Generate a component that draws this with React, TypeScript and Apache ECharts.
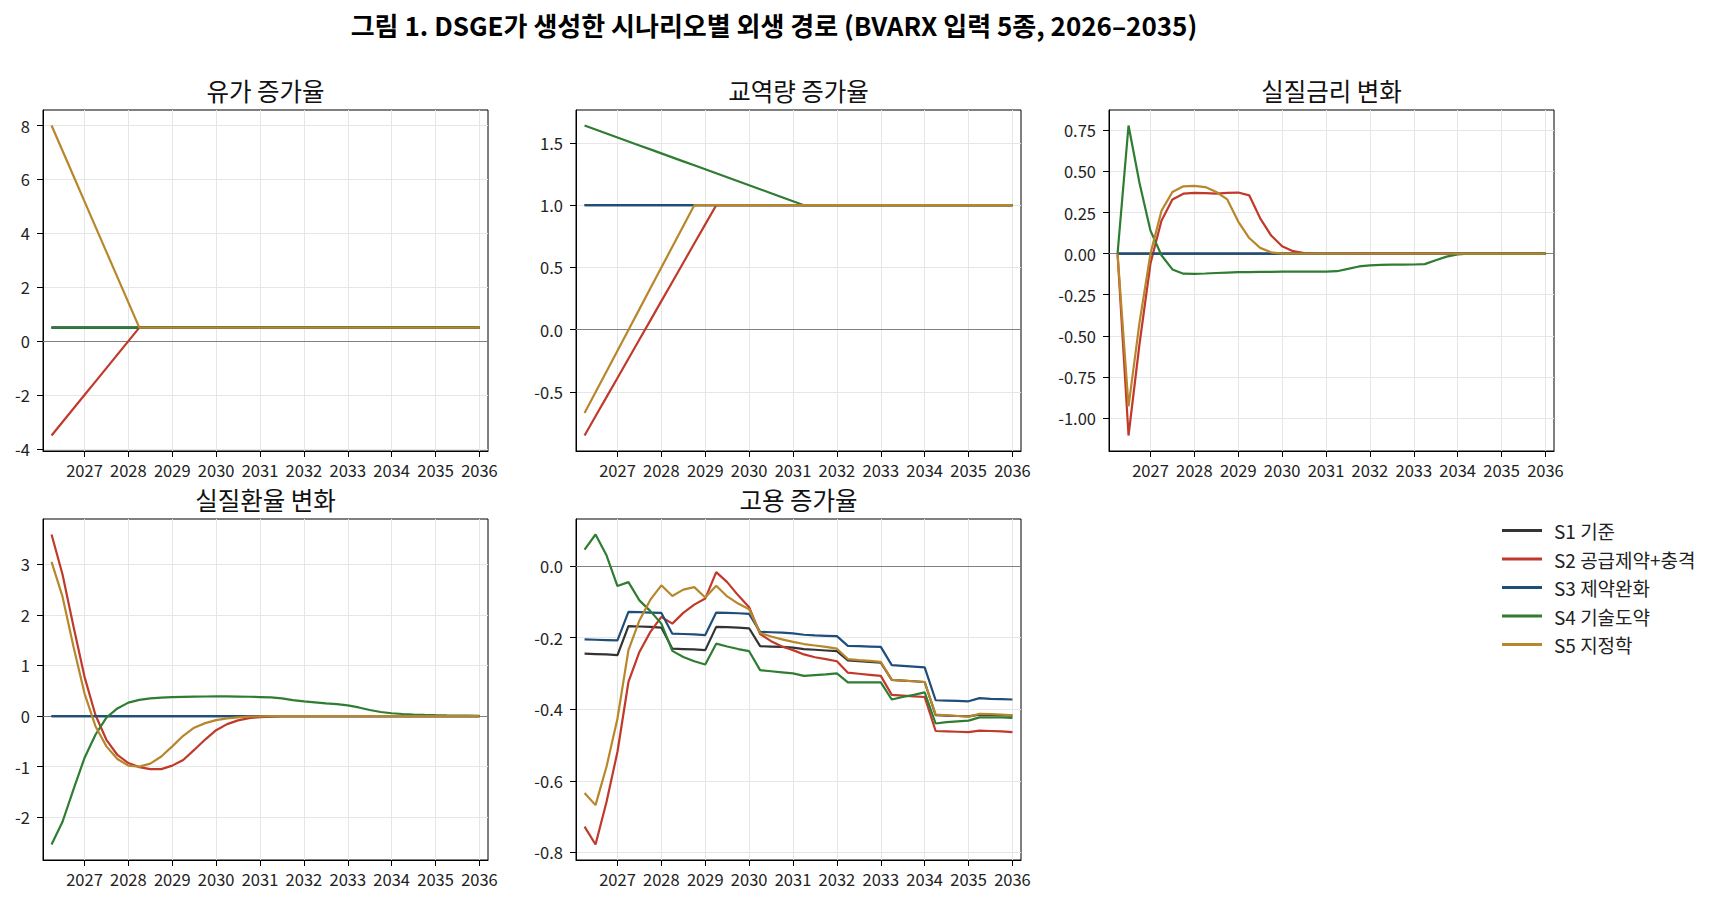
import React, { useEffect, useRef } from "react";
import * as echarts from "echarts";

// Quarterly horizon 2026Q1–2035Q4, plotted at year + quarter/4
const QUARTERS: number[] = Array.from({ length: 40 }, (_, i) => 2026.25 + i * 0.25);
const YEAR_TICKS = [2027, 2028, 2029, 2030, 2031, 2032, 2033, 2034, 2035, 2036];

const SCENARIOS = ["S1 기준", "S2 공급제약+충격", "S3 제약완화", "S4 기술도약", "S5 지정학"];
const COLORS = ["#333333", "#c0392b", "#1f4e79", "#2e7d32", "#b8862b"];

// 유가 증가율
const OIL_S1 = [0.5,0.5,0.5,0.5,0.5,0.5,0.5,0.5,0.5,0.5,0.5,0.5,0.5,0.5,0.5,0.5,0.5,0.5,0.5,0.5,0.5,0.5,0.5,0.5,0.5,0.5,0.5,0.5,0.5,0.5,0.5,0.5,0.5,0.5,0.5,0.5,0.5,0.5,0.5,0.5];
const OIL_S2 = [-3.5,-3.0,-2.5,-2.0,-1.5,-1.0,-0.5,0.0,0.5,0.5,0.5,0.5,0.5,0.5,0.5,0.5,0.5,0.5,0.5,0.5,0.5,0.5,0.5,0.5,0.5,0.5,0.5,0.5,0.5,0.5,0.5,0.5,0.5,0.5,0.5,0.5,0.5,0.5,0.5,0.5];
const OIL_S3 = [0.5,0.5,0.5,0.5,0.5,0.5,0.5,0.5,0.5,0.5,0.5,0.5,0.5,0.5,0.5,0.5,0.5,0.5,0.5,0.5,0.5,0.5,0.5,0.5,0.5,0.5,0.5,0.5,0.5,0.5,0.5,0.5,0.5,0.5,0.5,0.5,0.5,0.5,0.5,0.5];
const OIL_S4 = [0.5,0.5,0.5,0.5,0.5,0.5,0.5,0.5,0.5,0.5,0.5,0.5,0.5,0.5,0.5,0.5,0.5,0.5,0.5,0.5,0.5,0.5,0.5,0.5,0.5,0.5,0.5,0.5,0.5,0.5,0.5,0.5,0.5,0.5,0.5,0.5,0.5,0.5,0.5,0.5];
const OIL_S5 = [8.0,7.0625,6.125,5.1875,4.25,3.3125,2.375,1.4375,0.5,0.5,0.5,0.5,0.5,0.5,0.5,0.5,0.5,0.5,0.5,0.5,0.5,0.5,0.5,0.5,0.5,0.5,0.5,0.5,0.5,0.5,0.5,0.5,0.5,0.5,0.5,0.5,0.5,0.5,0.5,0.5];

// 교역량 증가율
const TRADE_S1 = [1,1,1,1,1,1,1,1,1,1,1,1,1,1,1,1,1,1,1,1,1,1,1,1,1,1,1,1,1,1,1,1,1,1,1,1,1,1,1,1];
const TRADE_S2 = [-0.85,-0.696,-0.542,-0.388,-0.233,-0.079,0.075,0.229,0.383,0.538,0.692,0.846,1,1,1,1,1,1,1,1,1,1,1,1,1,1,1,1,1,1,1,1,1,1,1,1,1,1,1,1];
const TRADE_S3 = [1,1,1,1,1,1,1,1,1,1,1,1,1,1,1,1,1,1,1,1,1,1,1,1,1,1,1,1,1,1,1,1,1,1,1,1,1,1,1,1];
const TRADE_S4 = [1.64,1.608,1.576,1.544,1.512,1.48,1.448,1.416,1.384,1.352,1.32,1.288,1.256,1.224,1.192,1.16,1.128,1.096,1.064,1.032,1,1,1,1,1,1,1,1,1,1,1,1,1,1,1,1,1,1,1,1];
const TRADE_S5 = [-0.67,-0.503,-0.336,-0.169,-0.002,0.165,0.332,0.499,0.666,0.833,1,1,1,1,1,1,1,1,1,1,1,1,1,1,1,1,1,1,1,1,1,1,1,1,1,1,1,1,1,1];

// 실질금리 변화
const RATE_S1 = [0,0,0,0,0,0,0,0,0,0,0,0,0,0,0,0,0,0,0,0,0,0,0,0,0,0,0,0,0,0,0,0,0,0,0,0,0,0,0,0];
const RATE_S2 = [0,-1.107,-0.55,-0.06,0.2,0.33,0.365,0.37,0.368,0.365,0.37,0.372,0.355,0.215,0.11,0.045,0.015,0.004,0,-0.002,-0.002,-0.001,0,0,0,0,0,0,0,0,0,0,0,0,0,0,0,0,0,0];
const RATE_S3 = [0,0,0,0,0,0,0,0,0,0,0,0,0,0,0,0,0,0,0,0,0,0,0,0,0,0,0,0,0,0,0,0,0,0,0,0,0,0,0,0];
const RATE_S4 = [0,0.78,0.43,0.14,-0.01,-0.096,-0.122,-0.123,-0.121,-0.118,-0.115,-0.113,-0.112,-0.111,-0.111,-0.11,-0.11,-0.11,-0.11,-0.109,-0.107,-0.093,-0.078,-0.072,-0.068,-0.067,-0.067,-0.066,-0.064,-0.04,-0.018,-0.005,0,0,0,0,0,0,0,0];
const RATE_S5 = [0,-0.93,-0.42,0.0,0.26,0.375,0.41,0.413,0.405,0.375,0.33,0.195,0.095,0.035,0.008,0,0,0,0,0,0,0,0,0,0,0,0,0,0,0,0,0,0,0,0,0,0,0,0,0];

// 실질환율 변화
const FX_S1 = [0,0,0,0,0,0,0,0,0,0,0,0,0,0,0,0,0,0,0,0,0,0,0,0,0,0,0,0,0,0,0,0,0,0,0,0,0,0,0,0];
const FX_S2 = [3.59,2.8,1.77,0.78,0.02,-0.47,-0.77,-0.93,-1.01,-1.05,-1.05,-0.98,-0.87,-0.67,-0.465,-0.28,-0.16,-0.085,-0.04,-0.02,-0.01,-0.004,0,0,0,0,0,0,0,0,0,0,0,0,0,0,0,0,0,0];
const FX_S3 = [0,0,0,0,0,0,0,0,0,0,0,0,0,0,0,0,0,0,0,0,0,0,0,0,0,0,0,0,0,0,0,0,0,0,0,0,0,0,0,0];
const FX_S4 = [-2.54,-2.09,-1.45,-0.83,-0.37,-0.03,0.15,0.265,0.32,0.35,0.365,0.375,0.38,0.385,0.387,0.388,0.388,0.386,0.382,0.376,0.37,0.35,0.315,0.29,0.27,0.25,0.235,0.21,0.17,0.12,0.08,0.055,0.04,0.03,0.022,0.017,0.013,0.01,0.008,0.006];
const FX_S5 = [3.05,2.36,1.37,0.45,-0.2,-0.6,-0.85,-0.98,-1.0,-0.94,-0.8,-0.6,-0.39,-0.23,-0.14,-0.08,-0.045,-0.025,-0.013,-0.006,-0.003,0,0,0,0,0,0,0,0,0,0,0,0,0,0,0,0,0,0,0];

// 고용 증가율
const EMP_S1 = [-0.245,-0.246,-0.247,-0.249,-0.168,-0.169,-0.17,-0.172,-0.231,-0.232,-0.233,-0.235,-0.17,-0.171,-0.172,-0.174,-0.224,-0.225,-0.226,-0.228,-0.232,-0.234,-0.236,-0.238,-0.264,-0.266,-0.268,-0.27,-0.318,-0.32,-0.322,-0.324,-0.417,-0.418,-0.419,-0.42,-0.415,-0.416,-0.417,-0.418];
const EMP_S2 = [-0.728,-0.778,-0.659,-0.519,-0.324,-0.24,-0.184,-0.142,-0.161,-0.131,-0.108,-0.091,-0.017,-0.045,-0.082,-0.115,-0.19,-0.21,-0.225,-0.235,-0.247,-0.255,-0.26,-0.266,-0.298,-0.301,-0.304,-0.307,-0.36,-0.362,-0.364,-0.366,-0.461,-0.462,-0.463,-0.464,-0.46,-0.461,-0.462,-0.464];
const EMP_S3 = [-0.205,-0.206,-0.207,-0.208,-0.128,-0.129,-0.13,-0.131,-0.189,-0.19,-0.191,-0.193,-0.13,-0.131,-0.132,-0.134,-0.184,-0.185,-0.186,-0.188,-0.192,-0.194,-0.195,-0.196,-0.223,-0.224,-0.225,-0.226,-0.277,-0.279,-0.281,-0.283,-0.375,-0.376,-0.377,-0.378,-0.369,-0.371,-0.372,-0.373];
const EMP_S4 = [0.046,0.088,0.03,-0.056,-0.045,-0.096,-0.126,-0.161,-0.237,-0.254,-0.266,-0.275,-0.217,-0.225,-0.232,-0.238,-0.291,-0.294,-0.297,-0.3,-0.307,-0.305,-0.303,-0.3,-0.325,-0.325,-0.325,-0.325,-0.373,-0.366,-0.36,-0.353,-0.44,-0.436,-0.434,-0.432,-0.423,-0.423,-0.423,-0.424];
const EMP_S5 = [-0.634,-0.668,-0.561,-0.426,-0.235,-0.152,-0.094,-0.054,-0.084,-0.066,-0.059,-0.088,-0.055,-0.085,-0.105,-0.121,-0.187,-0.197,-0.205,-0.212,-0.218,-0.222,-0.226,-0.231,-0.26,-0.263,-0.265,-0.268,-0.318,-0.32,-0.322,-0.324,-0.415,-0.417,-0.419,-0.421,-0.413,-0.414,-0.415,-0.417];

// y tick labels per panel
const OIL_TICKS = [-4, -2, 0, 2, 4, 6, 8];
const TRADE_TICKS = [-0.5, 0, 0.5, 1.0, 1.5];
const RATE_TICKS = [-1.0, -0.75, -0.5, -0.25, 0, 0.25, 0.5, 0.75];
const FX_TICKS = [-2, -1, 0, 1, 2, 3];
const EMP_TICKS = [-0.8, -0.6, -0.4, -0.2, 0.0];

const PANELS = [
  { title: "유가 증가율", series: [OIL_S1, OIL_S2, OIL_S3, OIL_S4, OIL_S5], ticks: OIL_TICKS, digits: 0 },
  { title: "교역량 증가율", series: [TRADE_S1, TRADE_S2, TRADE_S3, TRADE_S4, TRADE_S5], ticks: TRADE_TICKS, digits: 1 },
  { title: "실질금리 변화", series: [RATE_S1, RATE_S2, RATE_S3, RATE_S4, RATE_S5], ticks: RATE_TICKS, digits: 2 },
  { title: "실질환율 변화", series: [FX_S1, FX_S2, FX_S3, FX_S4, FX_S5], ticks: FX_TICKS, digits: 0 },
  { title: "고용 증가율", series: [EMP_S1, EMP_S2, EMP_S3, EMP_S4, EMP_S5], ticks: EMP_TICKS, digits: 1 },
];

const FONT = "'Noto Sans CJK KR', 'Noto Sans', sans-serif";
const GRID_LEFTS = [43, 576, 1109];
const GRID_TOPS = [110, 519];
const GRID_W = 445;
const GRID_H = 341;
const X_MIN = 2026.055;
const X_MAX = 2036.195;

export default function App() {
  const ref = useRef<HTMLDivElement>(null);

  useEffect(() => {
    document.body.style.margin = "0";
    const chart = echarts.init(ref.current!, undefined, { renderer: "svg" });

    const grids: any[] = [];
    const xAxes: any[] = [];
    const yAxes: any[] = [];
    const series: any[] = [];
    const graphics: any[] = [];

    PANELS.forEach((p, k) => {
      const left = GRID_LEFTS[k % 3];
      const top = GRID_TOPS[Math.floor(k / 3)];
      grids.push({
        left, top, width: GRID_W, height: GRID_H,
        show: true, borderColor: "#000", borderWidth: 1, backgroundColor: "transparent",
        containLabel: false,
      });

      const all = p.series.flat();
      const lo = Math.min(...all);
      const hi = Math.max(...all);
      const pad = (hi - lo) * 0.05;

      xAxes.push({
        type: "value", gridIndex: k, min: X_MIN, max: X_MAX,
        axisLine: { show: true, onZero: false, lineStyle: { color: "#000", width: 1 } },
        axisTick: { show: true, length: 6, lineStyle: { color: "#000", width: 1 }, customValues: YEAR_TICKS },
        axisLabel: {
          customValues: YEAR_TICKS, fontSize: 16.5, color: "#222", margin: 11, fontFamily: FONT,
          formatter: (v: number) => String(Math.round(v)),
        },
        splitLine: { show: true, lineStyle: { color: "#e6e6e6", width: 1 } },
      });

      yAxes.push({
        type: "value", gridIndex: k, min: lo - pad, max: hi + pad,
        axisLine: { show: true, onZero: false, lineStyle: { color: "#000", width: 1 } },
        axisTick: { show: true, length: 6, lineStyle: { color: "#000", width: 1 }, customValues: p.ticks },
        axisLabel: {
          customValues: p.ticks, fontSize: 16.5, color: "#222", margin: 13, fontFamily: FONT,
          formatter: (v: number) => v.toFixed(p.digits),
        },
        splitLine: { show: true, lineStyle: { color: "#e6e6e6", width: 1 } },
      });

      p.series.forEach((vals, s) => {
        const item: any = {
          type: "line", name: SCENARIOS[s], xAxisIndex: k, yAxisIndex: k,
          data: QUARTERS.map((x, i) => [x, vals[i]]),
          symbol: "none", showSymbol: false, clip: true,
          lineStyle: { color: COLORS[s], width: 2.2 },
          itemStyle: { color: COLORS[s] },
          z: 3 + s,
        };
        if (s === 0) {
          item.markLine = {
            silent: true, symbol: ["none", "none"], label: { show: false },
            lineStyle: { color: "#808080", width: 1, type: "solid" },
            data: [{ yAxis: 0 }],
            z: 2,
          };
        }
        series.push(item);
      });

      graphics.push({
        type: "text", x: left + GRID_W / 2, y: top - 20,
        style: { text: p.title, fontSize: 24.5, fontFamily: FONT, fill: "#111", align: "center", verticalAlign: "middle" },
      });
    });

    graphics.push({
      type: "text", x: 774, y: 24,
      style: {
        text: "그림 1. DSGE가 생성한 시나리오별 외생 경로 (BVARX 입력 5종, 2026–2035)",
        fontSize: 26, fontWeight: "bold", fontFamily: FONT, fill: "#000", align: "center", verticalAlign: "middle",
      },
    });

    chart.setOption({
      animation: false,
      backgroundColor: "#fff",
      grid: grids,
      xAxis: xAxes,
      yAxis: yAxes,
      series,
      legend: {
        data: SCENARIOS, orient: "vertical", left: 1497, top: 516,
        icon: "rect", itemWidth: 40, itemHeight: 3, itemGap: 9.5,
        textStyle: { fontSize: 19, lineHeight: 18, color: "#222", fontFamily: FONT, padding: [0, 0, 0, 7] },
      },
      graphic: graphics,
    });

    return () => chart.dispose();
  }, []);

  return <div ref={ref} style={{ width: 1721, height: 904, overflow: "hidden" }} />;
}
